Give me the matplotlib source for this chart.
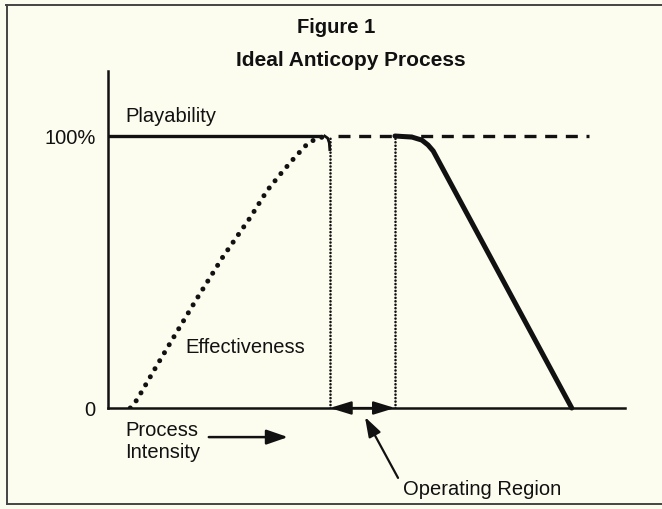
import matplotlib.pyplot as plt
from matplotlib.lines import Line2D

plt.rcParams["font.family"] = ["Liberation Sans", "DejaVu Sans"]

BG = "#fcfcef"
INK = "#111111"

# process intensity on x (0..10), percent on y
eff_x = [0.43, 0.56, 0.95, 1.26, 1.68, 2.22, 2.75, 3.08, 3.37, 3.62, 3.89, 4.20]
eff_y = [0, 3, 15.8, 25.7, 39, 55.5, 70, 80, 86.8, 92.3, 97.8, 100]

play_x = [0, 4.14]
play_y = [100, 100]
hook_x = [4.19, 4.25, 4.28, 4.29]
hook_y = [100, 99.2, 97.5, 95]
ideal_x = [4.45, 9.3]
ideal_y = [100, 100]
drop_x = [5.55, 5.88, 6.07, 6.19, 6.29, 8.97]
drop_y = [100, 99.6, 98.5, 96.7, 94.5, 0]

region = [4.29, 5.55]

FS = 14.5

fig = plt.figure(figsize=(6.62, 5.09), dpi=100, facecolor=BG)
ax = fig.add_axes([108 / 662, 1 - 408 / 509, 517 / 662, 337 / 509])
ax.set_facecolor(BG)
ax.set_xlim(0, 10)
ax.set_ylim(0, 123.9)

for side in ("top", "right"):
    ax.spines[side].set_visible(False)
for side in ("left", "bottom"):
    ax.spines[side].set_linewidth(1.8)
    ax.spines[side].set_color(INK)
ax.set_xticks([])
ax.set_yticks([0, 100])
ax.set_yticklabels(["0", "100%"], fontsize=FS, color=INK)
ax.tick_params(axis="y", length=0, pad=9)

ax.plot(eff_x, eff_y, color=INK, lw=3.6, linestyle=(0, (0.01, 1.85)),
        solid_capstyle="round", dash_capstyle="round")
ax.plot(play_x, play_y, color=INK, lw=2.4, solid_capstyle="butt")
ax.plot(hook_x, hook_y, color=INK, lw=2.0)
ax.plot(ideal_x, ideal_y, color=INK, lw=2.4, linestyle=(0, (3.6, 2.6)))
ax.plot(drop_x, drop_y, color=INK, lw=3.6, solid_capstyle="round", clip_on=False)

for xv in region:
    ax.plot([xv, xv], [0, 100], color=INK, lw=1.9, linestyle=(0, (0.01, 1.3)),
            dash_capstyle="round")

ax.annotate("", xy=(region[0], 0), xytext=(region[1], 0),
            arrowprops=dict(arrowstyle="<|-|>,head_length=1.3,head_width=0.4",
                            color=INK, lw=1.6, shrinkA=0, shrinkB=0),
            annotation_clip=False)
ax.annotate("", xy=(4.97, -3.3), xytext=(5.61, -25.7),
            arrowprops=dict(arrowstyle="-|>,head_length=1.2,head_width=0.4",
                            color=INK, lw=1.6, shrinkA=0, shrinkB=0),
            annotation_clip=False)
ax.annotate("", xy=(3.48, -10.7), xytext=(1.95, -10.7),
            arrowprops=dict(arrowstyle="-|>,head_length=1.3,head_width=0.45",
                            color=INK, lw=1.8, shrinkA=0, shrinkB=0),
            annotation_clip=False)

ax.text(0.33, 107, "Playability", fontsize=FS, color=INK, va="center", ha="left")
ax.text(1.50, 22.4, "Effectiveness", fontsize=FS, color=INK, va="center", ha="left")
ax.text(0.33, -12.5, "Process\nIntensity", fontsize=FS, color=INK, va="center",
        ha="left", linespacing=1.2, clip_on=False)
ax.text(5.71, -30, "Operating Region", fontsize=FS, color=INK, va="center",
        ha="left", clip_on=False)

fig.text(336 / 662, 1 - 33 / 509, "Figure 1", fontsize=FS, fontweight="bold",
         color=INK, ha="center", va="baseline")
fig.text(351 / 662, 1 - 66 / 509, "Ideal Anticopy Process", fontsize=15,
         fontweight="bold", color=INK, ha="center", va="baseline")

# frame around the figure
for xs, ys in [((6, 662), (5, 5)), ((7, 7), (5, 504)), ((7, 662), (504, 504))]:
    fig.add_artist(Line2D([x / 662 for x in xs], [1 - y / 509 for y in ys],
                          color="#444444", lw=1.4))

fig.savefig("out.png", dpi=100, facecolor=BG)
